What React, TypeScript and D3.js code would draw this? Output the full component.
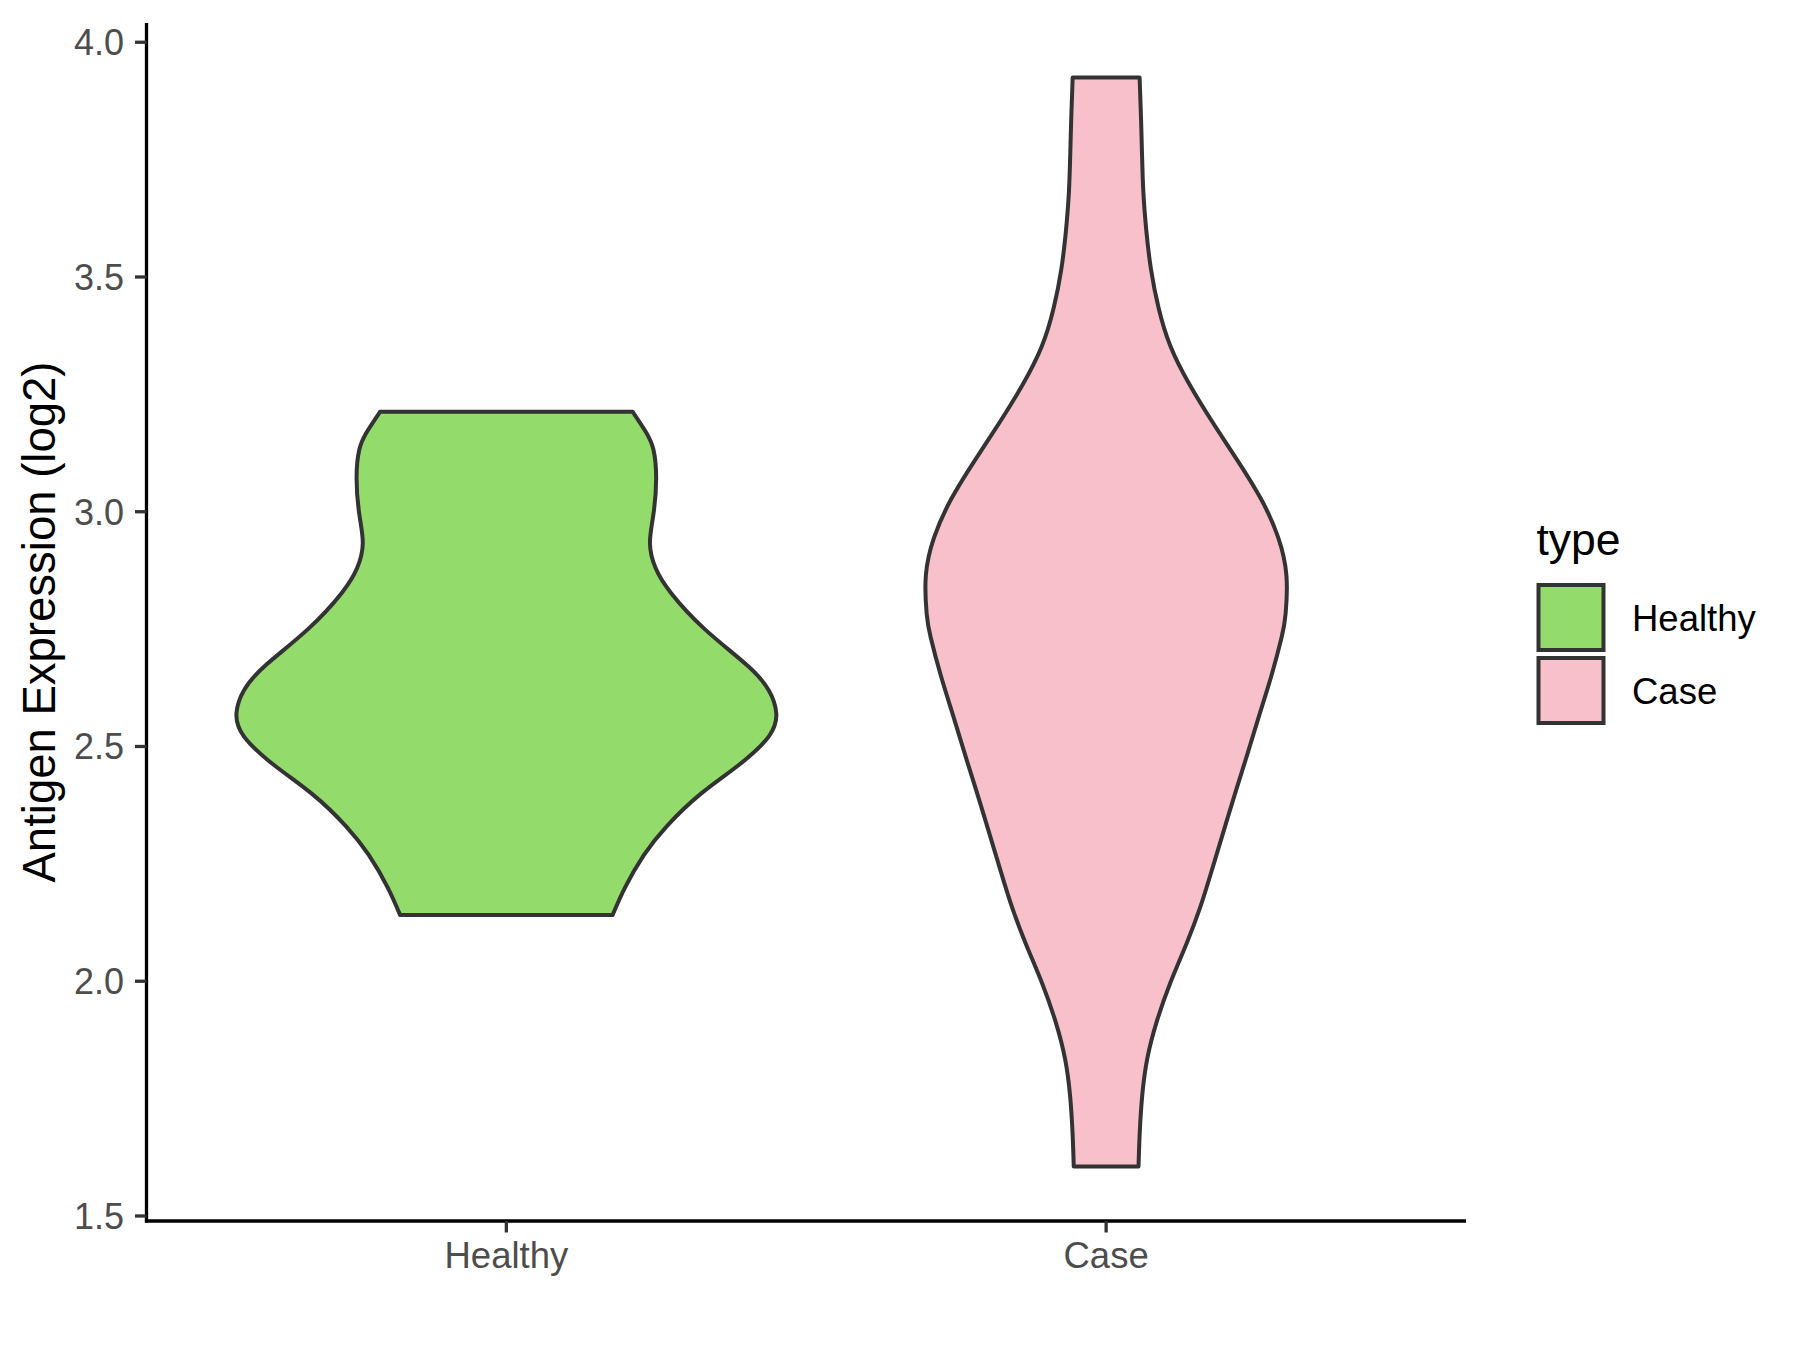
import React from "react";
import * as d3 from "d3";

// ---- Data ----
const categories = ["Healthy", "Case"];
const fillColors = ["#93DB6A", "#F7C0CB"];

// Violin outlines: expression value (log2) and scaled density (1 = widest violin)
const healthyValues = [3.213, 3.17, 3.132, 3.071, 2.995, 2.933, 2.88, 2.827, 2.75, 2.674, 2.62, 2.571, 2.521, 2.46, 2.399, 2.33, 2.269, 2.2, 2.1413];
const healthyDensity = [0.468, 0.517, 0.545, 0.555, 0.545, 0.532, 0.553, 0.61, 0.735, 0.89, 0.972, 1.0, 0.972, 0.86, 0.72, 0.594, 0.51, 0.44, 0.394];

const caseValues = [3.925, 3.843, 3.761, 3.68, 3.598, 3.517, 3.435, 3.353, 3.272, 3.19, 3.109, 3.027, 2.946, 2.864, 2.783, 2.732, 2.65, 2.568, 2.487, 2.406, 2.323, 2.241, 2.16, 2.079, 1.997, 1.915, 1.834, 1.752, 1.671, 1.6053];
const caseDensity = [0.124, 0.129, 0.133, 0.138, 0.149, 0.166, 0.194, 0.238, 0.308, 0.395, 0.487, 0.574, 0.637, 0.668, 0.665, 0.65, 0.612, 0.568, 0.525, 0.481, 0.437, 0.394, 0.35, 0.297, 0.238, 0.188, 0.152, 0.133, 0.124, 0.12];

const yTicks = [1.5, 2.0, 2.5, 3.0, 3.5, 4.0];
const yTitle = "Antigen Expression (log2)";
const legendTitle = "type";

// ---- Layout ----
const W = 1800;
const H = 1350;
const panel = { left: 146.5, right: 1466, top: 23, bottom: 1221 };
const FONT = "'Liberation Sans', Arial, Helvetica, sans-serif";

export default function App() {
  const allVals = [...healthyValues, ...caseValues];
  const lo = d3.min(allVals) as number;
  const hi = d3.max(allVals) as number;
  const pad = (hi - lo) * 0.05;
  const y = d3.scaleLinear().domain([lo - pad, hi + pad]).range([panel.bottom, panel.top]);

  // discrete x scale with 0.6 expansion on each side
  const x = d3.scalePoint<string>().domain(categories).range([panel.left, panel.right]).padding(0.6);
  const step = x.step();
  const maxHalf = step * 0.45;

  const groups = [
    { name: categories[0], values: healthyValues, dens: healthyDensity, fill: fillColors[0] },
    { name: categories[1], values: caseValues, dens: caseDensity, fill: fillColors[1] },
  ];

  const violins = groups.map((g) => {
    const cx = x(g.name) as number;
    const pts = g.values.map((v, i) => ({ v, w: g.dens[i] }));
    const area = d3
      .area<{ v: number; w: number }>()
      .y((d) => y(d.v))
      .x0((d) => cx - d.w * maxHalf)
      .x1((d) => cx + d.w * maxHalf)
      .curve(d3.curveNatural);
    return { ...g, cx, d: area(pts) as string };
  });

  const stroke = "#333333";

  return (
    <svg
      width={W}
      height={H}
      viewBox={`0 0 ${W} ${H}`}
      style={{ position: "absolute", left: 0, top: 0, background: "#fff" }}
      fontFamily={FONT}
    >
      <rect x={0} y={0} width={W} height={H} fill="#fff" />

      {/* violins */}
      {violins.map((vl) => (
        <path key={vl.name} d={vl.d} fill={vl.fill} stroke={stroke} strokeWidth={4} strokeLinejoin="round" />
      ))}

      {/* y axis */}
      <line x1={panel.left} x2={panel.left} y1={panel.top} y2={panel.bottom + 1.6} stroke="#000" strokeWidth={3.3} />
      {yTicks.map((t) => (
        <g key={t}>
          <line x1={panel.left - 11.5} x2={panel.left} y1={y(t)} y2={y(t)} stroke={stroke} strokeWidth={3.3} />
          <text x={124} y={y(t)} dy="0.36em" textAnchor="end" fontSize={36} fill="#4D4D4D">
            {t.toFixed(1)}
          </text>
        </g>
      ))}

      {/* x axis */}
      <line x1={panel.left - 1.6} x2={panel.right} y1={panel.bottom} y2={panel.bottom} stroke="#000" strokeWidth={3.3} />
      {categories.map((c) => (
        <g key={c}>
          <line x1={x(c)} x2={x(c)} y1={panel.bottom} y2={panel.bottom + 11.5} stroke={stroke} strokeWidth={3.3} />
          <text x={x(c)} y={1268} textAnchor="middle" fontSize={36.5} fill="#4D4D4D">
            {c}
          </text>
        </g>
      ))}

      {/* y title */}
      <text
        transform={`translate(55, ${(panel.top + panel.bottom) / 2}) rotate(-90)`}
        textAnchor="middle"
        fontSize={45.5}
        fill="#000"
      >
        {yTitle}
      </text>

      {/* legend */}
      <text x={1536.5} y={555} fontSize={44.5} fill="#000">
        {legendTitle}
      </text>
      {categories.map((c, i) => {
        const top = 585 + i * 73;
        return (
          <g key={c}>
            <rect x={1538.5} y={top} width={65} height={65} fill={fillColors[i]} stroke={stroke} strokeWidth={4} />
            <text x={1632} y={top + 32.5} dy="0.36em" fontSize={36.5} fill="#000">
              {c}
            </text>
          </g>
        );
      })}
    </svg>
  );
}
